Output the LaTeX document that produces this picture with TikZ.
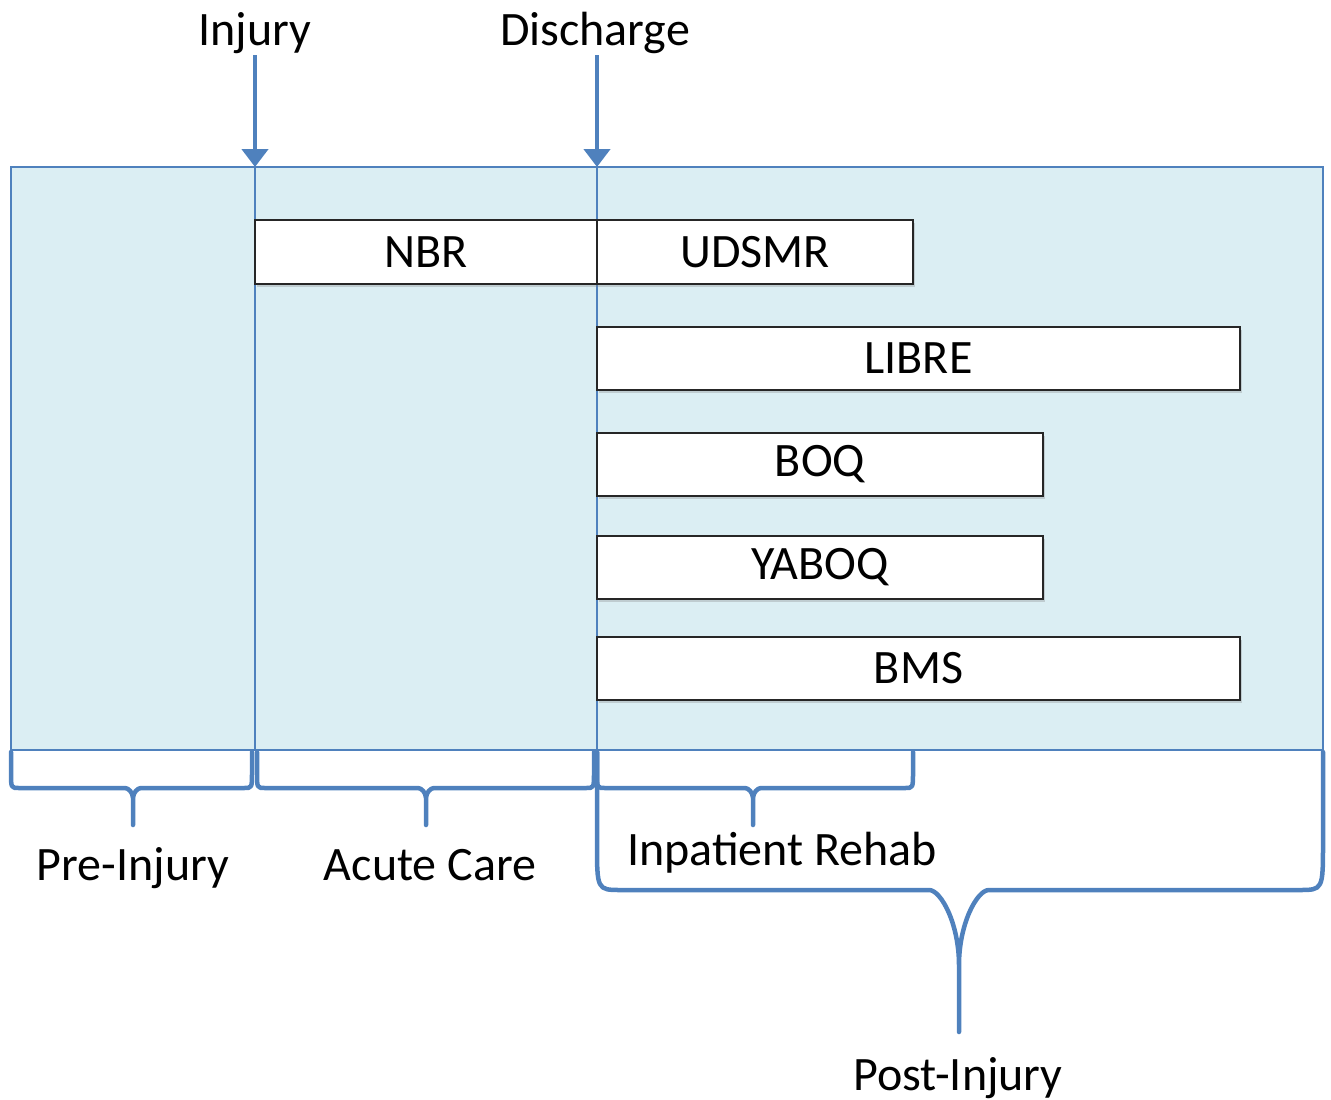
\documentclass[tikz,border=0pt]{standalone}
\usepackage{fontspec}
\setmainfont{Carlito}
\usetikzlibrary{arrows.meta,shadows}

\definecolor{phaseblue}{RGB}{79,129,189}
\definecolor{phasefill}{RGB}{219,238,243}

% brace: x1, x2, tip x, top y, middle y, tip y, corner, tip width, tip height
\newcommand{\phasebrace}[9]{%
	\draw[brace line] (#1,#4) -- (#1,#5-2*#7) .. controls (#1,#5) .. (#1+#7,#5) -- (#3-#8,#5)
		.. controls (#3-0.6*#8,#5) and (#3,#5+0.45*#9) .. (#3,#5+#9) -- (#3,#6)
		(#3,#6) -- (#3,#5+#9) .. controls (#3,#5+0.45*#9) and (#3+0.6*#8,#5) .. (#3+#8,#5)
		-- (#2-#7,#5) .. controls (#2,#5) .. (#2,#5-2*#7) -- (#2,#4);}

\tikzset{
	big text/.style={font=\fontsize{48}{58}\selectfont},
	mark label/.style={big text, inner sep=2pt, anchor=base},
	measure/.style={big text, draw=black!85, line width=2pt, fill=white, inner sep=0pt, minimum height=64pt,
		drop shadow={shadow xshift=2pt, shadow yshift=-3pt, opacity=.3}},
	marker/.style={phaseblue, line width=4.5pt, -{Triangle[width=26pt,length=18pt]}},
	brace line/.style={phaseblue, line width=4.5pt, line join=round, line cap=round},
}

\begin{document}
\begin{tikzpicture}[x=1pt,y=1pt,yscale=-1]
	\useasboundingbox (0,0) rectangle (1331,1100);

	% timeline area
	\draw[phaseblue, line width=1.5pt, fill=phasefill] (11,167) rectangle (1323,750);
	\coordinate (injtop) at (255,167);
	\coordinate (distop) at (597,167);
	\draw[phaseblue, line width=1.5pt] (injtop) -- (255,750);
	\draw[phaseblue, line width=1.5pt] (distop) -- (597,750);

	% events
	\node[mark label] (injury) at (255,45) {Injury};
	\node[mark label] (discharge) at (595,45) {Discharge};
	\draw[marker] (injury.south) -- (injtop);
	\draw[marker] (discharge.south -| distop) -- (distop);

	% measures
	\node[measure, minimum width=342pt] (nbr) at (426,252) {NBR};
	\node[measure, minimum width=316pt] (udsmr) at (755,252) {UDSMR};
	\node[measure, minimum width=643pt, minimum height=63pt] (libre) at (918.5,358.5) {LIBRE};
	\node[measure, minimum width=446pt, minimum height=63pt] (boq) at (820,464.5) {BOQ};
	\node[measure, minimum width=446pt, minimum height=63pt] (yaboq) at (820,567.5) {YABOQ};
	\node[measure, minimum width=643pt, minimum height=63pt] (bms) at (918.5,668.5) {BMS};

	% phases
	\phasebrace{11}{252}{133}{752}{788}{825}{8}{8}{10}
	\phasebrace{257}{594}{426}{752}{788}{825}{8}{8}{10}
	\phasebrace{597}{913}{753}{752}{788}{825}{8}{8}{10}
	\phasebrace{597}{1323}{959}{752}{890}{1032}{24}{30}{75}

	\node[mark label] (pre) at (133,880) {Pre-Injury};
	\node[mark label] (acute) at (430,880) {Acute Care};
	\node[mark label] (rehab) at (782,865) {Inpatient Rehab};
	\node[mark label] (post) at (958,1090) {Post-Injury};
\end{tikzpicture}
\end{document}
